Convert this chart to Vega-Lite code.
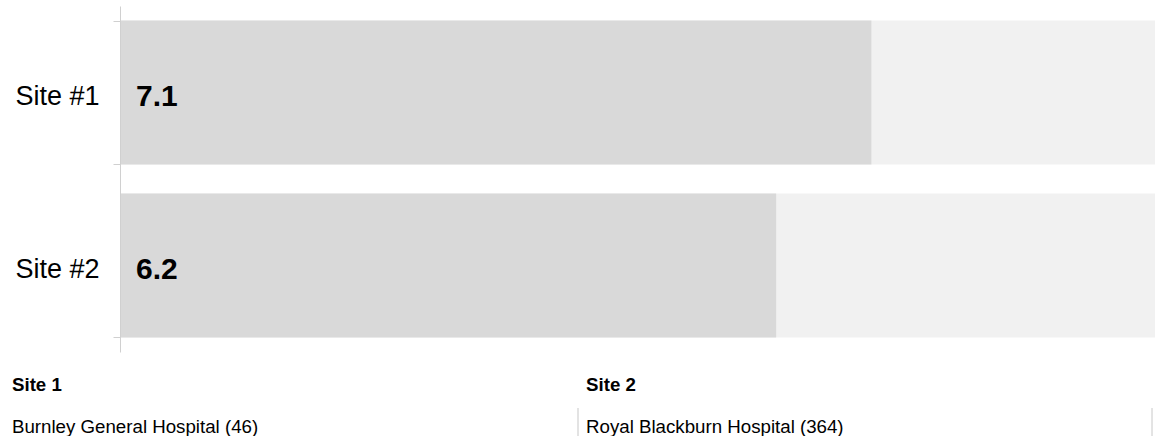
{
  "$schema": "https://vega.github.io/schema/vega-lite/v6.json",
  "width": 1035,
  "height": 346,
  "padding": {"left": 120, "top": 6, "right": 0, "bottom": 84},
  "autosize": {"type": "none"},
  "background": "white",
  "config": {"view": {"stroke": null}, "font": "Liberation Sans", "text": {"font": "Liberation Sans"}},
  "layer": [
    {
      "data": {"values": [
        {"site": "Site #1", "score": 7.1},
        {"site": "Site #2", "score": 6.2}
      ]},
      "encoding": {
        "y": {
          "field": "site", "type": "nominal", "sort": null,
          "scale": {"paddingInner": 0.168, "paddingOuter": 0.084},
          "axis": {
            "title": null, "domainColor": "#d0d0d0", "tickColor": "#d0d0d0", "zindex": 1,
            "tickSize": 7, "tickBand": "extent", "labelFontSize": 27, "labelOffset": 4,
            "labelColor": "#000000", "labelPadding": 14, "labelFont": "Liberation Sans"
          }
        }
      },
      "layer": [
        {
          "mark": {"type": "bar", "color": "#f1f1f1"},
          "encoding": {"x": {"datum": 9.78, "type": "quantitative", "scale": {"domain": [0, 9.78], "nice": false}, "axis": null}}
        },
        {
          "mark": {"type": "bar", "color": "#d9d9d9"},
          "encoding": {"x": {"field": "score", "type": "quantitative", "scale": {"domain": [0, 9.78], "nice": false}, "axis": null}}
        },
        {
          "mark": {"type": "text", "align": "left", "baseline": "middle", "dx": 16, "dy": 4, "fontSize": 30, "fontWeight": "bold", "color": "#000000"},
          "encoding": {
            "x": {"datum": 0, "type": "quantitative", "scale": {"domain": [0, 9.78], "nice": false}, "axis": null},
            "text": {"field": "score", "type": "quantitative", "format": ".1f"}
          }
        }
      ]
    },
    {
      "data": {"values": [
        {"col": 0, "row": 0, "kind": "header", "label": "Site 1"},
        {"col": 0, "row": 1, "kind": "name", "label": "Burnley General Hospital (46)"},
        {"col": 1, "row": 0, "kind": "header", "label": "Site 2"},
        {"col": 1, "row": 1, "kind": "name", "label": "Royal Blackburn Hospital (364)"}
      ]},
      "layer": [
        {
          "transform": [{"filter": "datum.kind === 'header'"}],
          "mark": {"type": "text", "align": "left", "baseline": "middle", "dx": 8, "dy": -1, "fontSize": 18.7, "fontWeight": "bold", "color": "#000000"},
          "encoding": {
            "x": {"field": "col", "type": "quantitative", "scale": {"domain": [0.2021, 2.0052], "nice": false, "zero": false}, "axis": null},
            "y": {"field": "row", "type": "quantitative", "scale": {"domain": [-10.457, -0.925], "nice": false, "zero": false, "reverse": true}, "axis": null},
            "text": {"field": "label"}
          }
        },
        {
          "transform": [{"filter": "datum.kind === 'name'"}],
          "mark": {"type": "text", "align": "left", "baseline": "middle", "dx": 8, "dy": 5, "fontSize": 18.7, "color": "#000000"},
          "encoding": {
            "x": {"field": "col", "type": "quantitative", "scale": {"domain": [0.2021, 2.0052], "nice": false, "zero": false}, "axis": null},
            "y": {"field": "row", "type": "quantitative", "scale": {"domain": [-10.457, -0.925], "nice": false, "zero": false, "reverse": true}, "axis": null},
            "text": {"field": "label"}
          }
        },
        {
          "data": {"values": [
            {"boundary": 1, "row": 1},
            {"boundary": 2, "row": 1}
          ]},
          "mark": {"type": "tick", "orient": "vertical", "size": 28, "thickness": 1, "color": "#c8c8c8", "opacity": 1},
          "encoding": {
            "x": {"field": "boundary", "type": "quantitative", "scale": {"domain": [0.2021, 2.0052], "nice": false, "zero": false}, "axis": null},
            "y": {"field": "row", "type": "quantitative", "scale": {"domain": [-10.457, -0.925], "nice": false, "zero": false, "reverse": true}, "axis": null}
          }
        }
      ]
    }
  ],
  "resolve": {"scale": {"x": "independent", "y": "independent"}, "axis": {"x": "independent", "y": "independent"}}
}
